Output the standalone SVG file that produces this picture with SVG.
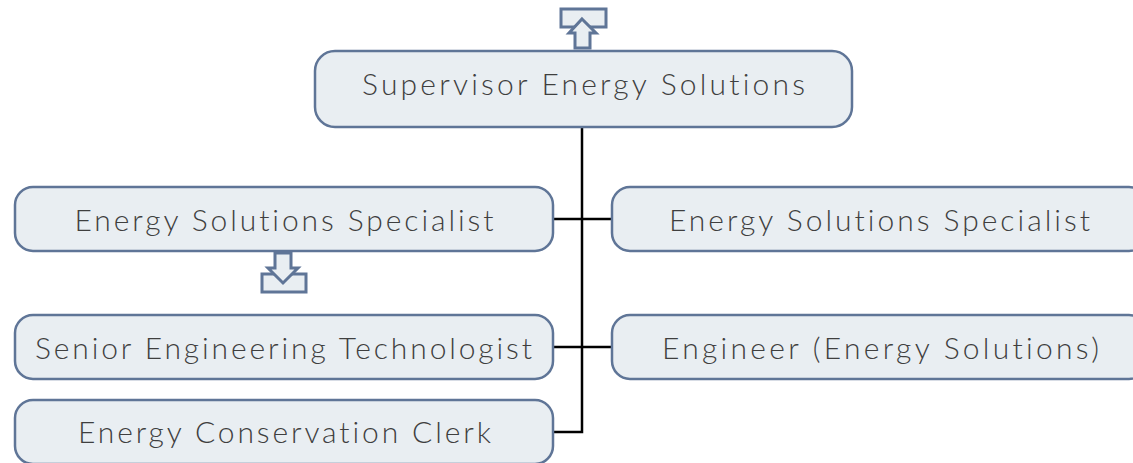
<svg xmlns="http://www.w3.org/2000/svg" width="1133" height="463" viewBox="0 0 1133 463">
<style>
.box{fill:#e9eef2;stroke:#5f7597;stroke-width:2.5}
.lbl{font-family:Lato,"Open Sans","Liberation Sans",sans-serif;font-weight:300;font-size:30px;fill:#3f3f3f;text-anchor:middle;font-variant-ligatures:none;font-feature-settings:"liga" 0,"clig" 0,"dlig" 0}
.icon{fill:#e9eef2;stroke:#5f7597;stroke-width:3;stroke-linejoin:miter}
.conn{stroke:#000;stroke-width:2.5;fill:none}
</style>
<g id="connectors">
<path class="conn" d="M582 127 V432 H553"/>
<path class="conn" d="M553 219 H612"/>
<path class="conn" d="M553 347 H612"/>
</g>
<g id="n-top">
<rect class="icon" x="561" y="9" width="45" height="18"/>
<polygon class="icon" points="582,19 596,33 590,33 590,48 575,48 575,33 569,33"/>
<rect class="box" x="315" y="51" width="537" height="76" rx="20"/>
<text class="lbl" x="583.5" y="95" textLength="443" lengthAdjust="spacing">Supervisor Energy Solutions</text>
</g>
<g id="n-left1">
<rect class="box" x="15" y="187" width="538" height="64" rx="18"/>
<text class="lbl" x="284" y="231" textLength="419" lengthAdjust="spacing">Energy Solutions Specialist</text>
<rect class="icon" x="262" y="274" width="44" height="18"/>
<polygon class="icon" points="275,253 291,253 291,268 298,268 283,283 268,268 275,268"/>
</g>
<g id="n-right1">
<rect class="box" x="612" y="187" width="535" height="64" rx="18"/>
<text class="lbl" x="879.5" y="231" textLength="421" lengthAdjust="spacing">Energy Solutions Specialist</text>
</g>
<g id="n-left2">
<rect class="box" x="15" y="315" width="538" height="64" rx="18"/>
<text class="lbl" x="283.5" y="359" textLength="497" lengthAdjust="spacing">Senior Engineering Technologist</text>
</g>
<g id="n-right2">
<rect class="box" x="612" y="315" width="535" height="64" rx="18"/>
<text class="lbl" x="880.5" y="359" textLength="437" lengthAdjust="spacing">Engineer (Energy Solutions)</text>
</g>
<g id="n-left3">
<rect class="box" x="15" y="400" width="538" height="64" rx="18"/>
<text class="lbl" x="284.5" y="443" textLength="413" lengthAdjust="spacing">Energy Conservation Clerk</text>
</g>
</svg>
